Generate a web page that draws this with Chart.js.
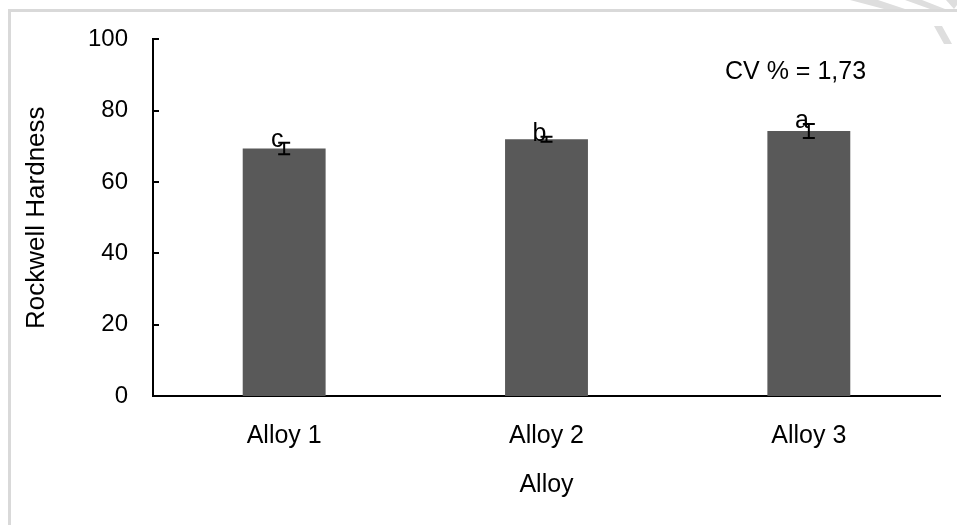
<!DOCTYPE html>
<html>
<head>
<meta charset="utf-8">
<script src="https://cdn.jsdelivr.net/npm/chart.js@4.4.1/dist/chart.umd.min.js"></script>
<style>
    html, body { margin: 0; padding: 0; background: #fff; overflow: hidden; }
    #contenedor { position: absolute; left: 0; top: 0; width: 957px; height: 525px; }
    #marco { position: absolute; left: 8px; top: 9px; width: 1000px; height: 600px; border: 3px solid #d9d9d9; }
</style>
</head>
<body>
<div id="marco"></div>
<div id="contenedor"><canvas id="durezaChart"></canvas></div>
<script>
// Datos del gráfico
const aleaciones = ["Alloy 1", "Alloy 2", "Alloy 3"];
const dureza = [69.4, 72.0, 74.3];
const errores = [1.6, 0.7, 1.95];
const letras = ["c", "b", "a"];
const ticksY = [0, 20, 40, 60, 80, 100];
const textoCV = "CV % = 1,73";

const fuente = "'Liberation Sans', Arial, sans-serif";

// Marcas de agua (trazos grises en la esquina)
const marcaAgua = {
    id: "marcaAgua",
    beforeDraw(chart) {
        const ctx = chart.ctx;
        ctx.save();
        ctx.fillStyle = "#dedede";
        const trozos = [
            [[850, 0], [878, 0], [905, 9], [884, 9]],
            [[905, 0], [922, 0], [945, 9], [930, 9]],
            [[946, 0], [957, 0], [957, 5], [954, 9]],
            [[934, 26], [942, 26], [952, 44], [944, 44]]
        ];
        trozos.forEach(p => {
            ctx.beginPath();
            ctx.moveTo(p[0][0], p[0][1]);
            p.slice(1).forEach(q => ctx.lineTo(q[0], q[1]));
            ctx.closePath();
            ctx.fill();
        });
        ctx.restore();
    }
};

// Marcas internas del eje Y, barras de error, letras y CV
const extras = {
    id: "extras",
    afterDraw(chart) {
        const ctx = chart.ctx;
        const y = chart.scales.y;
        const area = chart.chartArea;
        const meta = chart.getDatasetMeta(0);

        ctx.save();
        ctx.strokeStyle = "#000";
        ctx.lineWidth = 2;

        ticksY.forEach(t => {
            const py = Math.round(y.getPixelForValue(t));
            ctx.beginPath();
            ctx.moveTo(area.left, py);
            ctx.lineTo(area.left + 6, py);
            ctx.stroke();
        });

        dureza.forEach((v, i) => {
            const x = meta.data[i].x;
            const arriba = y.getPixelForValue(v + errores[i]);
            const abajo = y.getPixelForValue(v - errores[i]);
            ctx.beginPath();
            ctx.moveTo(x, arriba);
            ctx.lineTo(x, abajo);
            ctx.moveTo(x - 6, arriba);
            ctx.lineTo(x + 6, arriba);
            ctx.moveTo(x - 6, abajo);
            ctx.lineTo(x + 6, abajo);
            ctx.stroke();

            ctx.fillStyle = "#000";
            ctx.font = "25px " + fuente;
            ctx.textAlign = "center";
            ctx.textBaseline = "alphabetic";
            ctx.fillText(letras[i], x - 7, arriba + 4);
        });

        ctx.font = "25px " + fuente;
        ctx.textAlign = "left";
        ctx.textBaseline = "alphabetic";
        ctx.fillStyle = "#000";
        ctx.fillText(textoCV, area.right - 215, area.top + 40);
        ctx.restore();
    }
};

new Chart(document.getElementById("durezaChart"), {
    type: "bar",
    data: {
        labels: aleaciones,
        datasets: [{
            label: "Rockwell Hardness",
            data: dureza,
            backgroundColor: "#595959",
            borderWidth: 0,
            barPercentage: 1,
            categoryPercentage: 0.316
        }]
    },
    options: {
        responsive: true,
        maintainAspectRatio: false,
        animation: false,
        layout: { padding: { left: 0, top: 38, right: 17, bottom: 0 } },
        plugins: {
            legend: { display: false },
            tooltip: { enabled: false }
        },
        scales: {
            x: {
                grid: { display: false, drawTicks: false },
                border: { display: true, color: "#000", width: 2 },
                ticks: { color: "#000", font: { family: fuente, size: 25 }, padding: 25 },
                title: {
                    display: true,
                    text: "Alloy",
                    color: "#000",
                    font: { family: fuente, size: 25 },
                    padding: { top: 0, bottom: 25 }
                },
                afterFit: s => { s.height = 129; }
            },
            y: {
                min: 0,
                max: 100,
                afterBuildTicks: s => { s.ticks = ticksY.map(v => ({ value: v })); },
                grid: { display: false, drawTicks: false },
                border: { display: true, color: "#000", width: 2 },
                ticks: { color: "#000", font: { family: fuente, size: 24 }, padding: 25 },
                title: {
                    display: true,
                    text: "Rockwell Hardness",
                    color: "#000",
                    font: { family: fuente, size: 26 },
                    padding: { top: 21, bottom: 0 }
                },
                afterFit: s => { s.width = 153; }
            }
        }
    },
    plugins: [marcaAgua, extras]
});
</script>
</body>
</html>
